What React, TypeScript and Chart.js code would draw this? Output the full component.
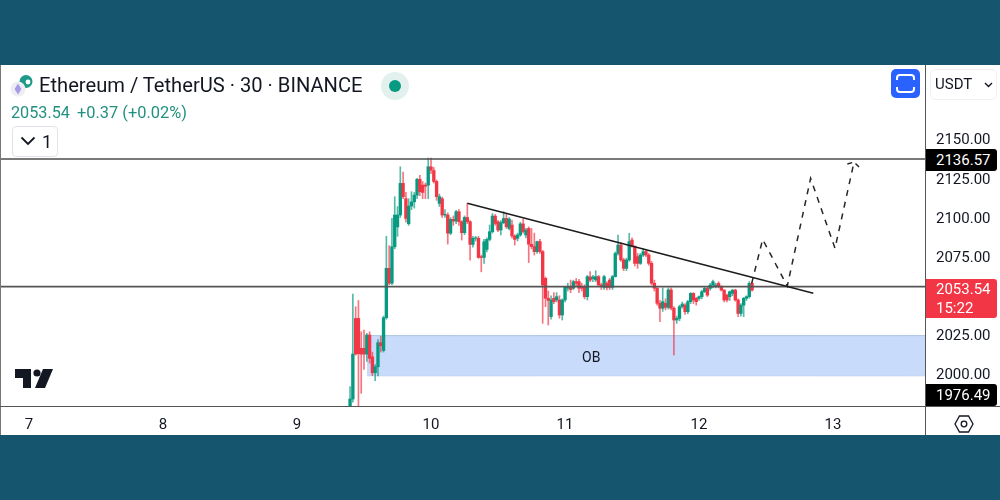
import { useEffect, useRef } from "react";
import Chart from "chart.js/auto";

// values
const firstCandleDay = 9.396;
const candleStep = 1 / 48; // 30 min candles, axis is in days

const opens = [
  1979, 1984, 2035.5, 2035.5, 2016.4, 2016.4, 2012.7, 2024.9, 2011, 2000.8,
  2004.6, 2020, 2015, 2036, 2067.5, 2058, 2081.3, 2094, 2101.6, 2121.8,
  2112, 2096, 2107.3, 2110, 2114.3, 2124.4, 2120.7, 2120.7, 2120.7, 2132.4,
  2130, 2123, 2109, 2112, 2101.6, 2101.6, 2090, 2098.8, 2097.7, 2103.7,
  2097.3, 2090.3, 2100, 2097.3, 2082.8, 2086.7, 2086.7, 2075, 2074.5, 2079.6,
  2086, 2090.9, 2100.9, 2097.3, 2092, 2096.7, 2099.4, 2093, 2095.2, 2088.2,
  2086.7, 2088.8, 2095.9, 2088.8, 2093, 2082.9, 2081.4, 2078.2, 2084.6, 2078.2,
  2061.1, 2048.4, 2036.7, 2048.4, 2047.3, 2047.3, 2037.7, 2047.3, 2054.8, 2055.8,
  2054.8, 2059, 2059, 2055.8, 2055.8, 2049.4, 2062, 2061, 2060.1, 2062.2,
  2056.9, 2055.4, 2058, 2060, 2055.4, 2062.2, 2077, 2082.4, 2072.9, 2067.5,
  2072.9, 2085.6, 2081.4, 2075, 2070.7, 2076, 2078.2, 2076, 2070.7, 2058,
  2054.8, 2045.2, 2042, 2045.2, 2042.6, 2053.7, 2042, 2034.5, 2035.5, 2043,
  2044, 2039.8, 2046.2, 2051.5, 2048.3, 2048.3, 2049.4, 2052.6, 2054.7, 2054.7,
  2056.8, 2056.2, 2057.9, 2055.8, 2053.6, 2050.4, 2049.4, 2051.5, 2053.6, 2047.3,
  2038.7, 2044, 2048.3, 2049.4, 2057.9,
];
const closes = [
  1984, 2012.7, 2012.7, 2013, 2012.7, 2012.7, 2024.9, 2010, 2000.8, 2004.6,
  2020, 2018, 2036, 2067.5, 2058, 2081.3, 2101.6, 2101.6, 2121.8, 2113.3,
  2099.4, 2107.3, 2110, 2114.3, 2124.4, 2116.5, 2116, 2120, 2132.4, 2130.3,
  2123, 2113.3, 2113.3, 2101.6, 2102, 2090, 2098.8, 2097.7, 2103.7, 2097.3,
  2090.3, 2100, 2097.3, 2082.8, 2086.7, 2087, 2074.5, 2074.5, 2084.5, 2086,
  2090.9, 2100.9, 2096.2, 2092, 2096.7, 2099.4, 2094.1, 2099, 2088.2, 2086,
  2088.8, 2095.9, 2091, 2092, 2082.9, 2081.4, 2078.2, 2084.6, 2078.2, 2056.9,
  2048.4, 2047, 2047.3, 2046.2, 2049.4, 2037.7, 2047.3, 2055.4, 2055.8, 2054,
  2059, 2058, 2054.8, 2054.8, 2049.4, 2062.2, 2060, 2062, 2062.2, 2056.9,
  2056, 2062.2, 2055.4, 2055.4, 2062.2, 2077, 2082.4, 2072.9, 2067.5, 2072.9,
  2084.6, 2081.8, 2070.7, 2070.7, 2076, 2078.2, 2076, 2070.7, 2058, 2054.8,
  2045.2, 2042, 2046.2, 2042.6, 2053.7, 2042, 2034.5, 2035.5, 2043, 2044.7,
  2039.8, 2046.2, 2051.5, 2047.3, 2046.2, 2049.4, 2052.6, 2054.7, 2050.4, 2056.8,
  2059, 2056.8, 2055.8, 2053.6, 2047.3, 2047.3, 2052.6, 2053.6, 2047.3, 2038.7,
  2044, 2048.3, 2049.4, 2057.9, 2053.6,
];
const highs = [
  1992, 2051, 2043, 2047, 2027, 2028, 2026, 2027, 2014, 2006,
  2022, 2024, 2037, 2088, 2082, 2099.4, 2113.3, 2107, 2132.4, 2129,
  2116, 2112, 2116.5, 2116, 2125, 2127, 2123, 2122, 2138, 2138,
  2132, 2124, 2115, 2113, 2105, 2103, 2100, 2101, 2104.5, 2105,
  2098, 2101, 2109, 2098, 2088, 2088, 2088, 2076, 2086, 2087,
  2095.2, 2102.6, 2102, 2098, 2098, 2103.7, 2102.6, 2100, 2098.4, 2089,
  2090, 2097, 2099, 2093, 2094, 2093, 2090, 2085, 2086, 2079,
  2062, 2053, 2050, 2052, 2052, 2050, 2048, 2056, 2058, 2060,
  2060, 2061, 2060.5, 2058, 2057, 2063, 2065.4, 2063, 2066, 2063,
  2058, 2063, 2059, 2061, 2063, 2078, 2088.8, 2084, 2074, 2074,
  2089.9, 2087, 2082, 2077, 2077, 2080, 2079.5, 2077, 2072, 2060,
  2056, 2047, 2055, 2048, 2055, 2055, 2043, 2037, 2044, 2046,
  2045, 2047, 2052, 2052, 2049, 2050, 2053.5, 2056, 2055.5, 2058,
  2060, 2058, 2059, 2056.5, 2054, 2051, 2053, 2054, 2054.2, 2048,
  2045, 2049, 2050, 2059, 2058.5,
];
const lows = [
  1975, 1982, 2012, 1977, 1987.6, 2003, 2008, 2007, 1999, 1995.7,
  1998.7, 2014, 2014, 2035, 2057, 2057, 2080, 2088, 2100, 2112,
  2097, 2095, 2105, 2106, 2112, 2114, 2112, 2112, 2112, 2128,
  2122, 2111, 2107, 2100, 2100, 2083, 2089, 2095, 2096, 2095,
  2085.6, 2089, 2096, 2072.8, 2081, 2085, 2073.9, 2065.3, 2070.7, 2078,
  2085, 2090, 2095, 2091, 2088.8, 2096, 2093, 2092, 2087, 2082.4,
  2085, 2088, 2090, 2087, 2071.2, 2080, 2076, 2077, 2077, 2032.4,
  2043, 2031.3, 2035, 2045, 2046, 2035.6, 2034.5, 2046, 2053, 2052,
  2054, 2056, 2052, 2053, 2048, 2047.3, 2059, 2059, 2059, 2056,
  2054, 2054, 2053.7, 2054, 2054, 2062, 2076, 2072, 2066, 2066,
  2072, 2081, 2069, 2067.5, 2070, 2075, 2075, 2069.5, 2056.9, 2053,
  2044, 2033.4, 2040, 2041, 2041.5, 2041, 2012.2, 2032.3, 2034, 2042,
  2038, 2038.5, 2045, 2045, 2044, 2047, 2048, 2052, 2049.5, 2053.5,
  2055, 2055, 2055, 2053, 2046, 2046, 2047, 2050, 2046.5, 2036.6,
  2037, 2036.6, 2047, 2048.5, 2053,
];

const dayTicks = [7, 8, 9, 10, 11, 12, 13];
const priceTicks = [2150, 2125, 2100, 2075, 2025, 2000];

const xMin = 6.7836;
const xMax = 13.6866;
const yMin = 1979.55;
const yMax = 2197.44;

const resistance = 2137.4;
const support = 2055.8;
const obTop = 2024.5;
const obBottom = 1998.9;
const obStartDay = 9.522;

const trendLine = [
  { x: 10.271, y: 2109.1 },
  { x: 12.853, y: 2051.6 },
];
const projection = [
  { x: 12.393, y: 2057.9 },
  { x: 12.475, y: 2086 },
  { x: 12.659, y: 2056.2 },
  { x: 12.833, y: 2125 },
  { x: 13.015, y: 2080.3 },
  { x: 13.157, y: 2135.4 },
];
const arrowHead = [
  { x: 13.107, y: 2134.2 },
  { x: 13.157, y: 2135.4 },
  { x: 13.197, y: 2132 },
];

const UP = "#089981";
const DOWN = "#f23645";
const TEXT = "#131722";
const FONT = "Roboto, sans-serif";

const lineBase = { type: "line" as const, pointRadius: 0, fill: false, tension: 0 };

function box(left: number, top: number, width: number, height: number) {
  return { position: "absolute" as const, left, top, width, height };
}

function CandleChart() {
  const canvasRef = useRef<HTMLCanvasElement>(null);

  useEffect(() => {
    if (!canvasRef.current) return;
    const days = opens.map((_, i) => firstCandleDay + i * candleStep);
    const colors = opens.map((o, i) => (closes[i] >= o ? UP : DOWN));

    const chart = new Chart(canvasRef.current, {
      type: "bar",
      data: {
        datasets: [
          {
            ...lineBase,
            data: [
              { x: xMin, y: resistance },
              { x: xMax, y: resistance },
            ],
            borderColor: "#4d4d4d",
            borderWidth: 1.4,
            order: 1,
          },
          {
            ...lineBase,
            data: [
              { x: xMin, y: support },
              { x: xMax, y: support },
            ],
            borderColor: "#555555",
            borderWidth: 1.6,
            order: 1,
          },
          { ...lineBase, data: trendLine, borderColor: "#1c1c1c", borderWidth: 1.5, order: 0 },
          { ...lineBase, data: projection, borderColor: "#262626", borderWidth: 1.5, borderDash: [6, 6], order: 0 },
          { ...lineBase, data: arrowHead, borderColor: "#262626", borderWidth: 1.5, borderDash: [5, 4], order: 0 },
          {
            type: "bar",
            data: days.map((x, i) => ({ x, y: [opens[i], closes[i]] })),
            backgroundColor: colors,
            barThickness: 2.7,
            grouped: false,
            order: 2,
          },
          {
            type: "bar",
            data: days.map((x, i) => ({ x, y: [lows[i], highs[i]] })),
            backgroundColor: colors.map((c) => c + "b0"),
            barThickness: 1,
            grouped: false,
            order: 3,
          },
          {
            ...lineBase,
            data: [
              { x: obStartDay, y: obTop },
              { x: xMax, y: obTop },
            ],
            borderColor: "#a9c3e3",
            borderWidth: 1,
            fill: "+1",
            backgroundColor: "#c9dbfb",
            order: 4,
          },
          {
            ...lineBase,
            data: [
              { x: obStartDay, y: obBottom },
              { x: xMax, y: obBottom },
            ],
            borderColor: "#a9c3e3",
            borderWidth: 1,
            order: 4,
          },
        ] as any,
      },
      options: {
        animation: false,
        responsive: false,
        layout: { padding: { top: 65, bottom: 65, left: 0, right: 0 } },
        plugins: { legend: { display: false }, tooltip: { enabled: false } },
        scales: {
          x: {
            type: "linear",
            min: xMin,
            max: xMax,
            offset: false,
            grid: { display: false, drawTicks: false },
            border: { display: false },
            afterFit: (axis: any) => {
              axis.height = 29;
            },
            afterBuildTicks: (axis: any) => {
              axis.ticks = dayTicks.map((value) => ({ value }));
            },
            ticks: {
              autoSkip: false,
              maxRotation: 0,
              padding: 10,
              color: TEXT,
              font: { family: FONT, size: 15 },
              callback: (v: any) => String(v),
            },
          },
          y: {
            type: "linear",
            position: "right",
            min: yMin,
            max: yMax,
            grid: { display: false, drawTicks: false },
            border: { display: false },
            afterFit: (axis: any) => {
              axis.width = 75;
            },
            afterBuildTicks: (axis: any) => {
              axis.ticks = priceTicks.map((value) => ({ value }));
            },
            ticks: {
              autoSkip: false,
              padding: 11,
              labelOffset: 1.5,
              color: TEXT,
              font: { family: FONT, size: 15 },
              callback: (v: any) => Number(v).toFixed(2),
            },
          },
        },
      },
    });
    return () => chart.destroy();
  }, []);

  return (
    <canvas
      ref={canvasRef}
      width={1000}
      height={500}
      style={{ position: "absolute", left: 0, top: 0, width: 1000, height: 500 }}
    />
  );
}

function PriceTag({ top, height, bg, lines }: { top: number; height: number; bg: string; lines: string[] }) {
  return (
    <div
      style={{
        ...box(926, top, 71, height),
        background: bg,
        borderRadius: "0 3px 3px 0",
        color: "#fff",
        fontSize: 15,
        lineHeight: "19px",
        paddingLeft: 10,
        boxSizing: "border-box",
        display: "flex",
        flexDirection: "column",
        justifyContent: "center",
      }}
    >
      {lines.map((line) => (
        <div key={line}>{line}</div>
      ))}
    </div>
  );
}

export default function App() {
  return (
    <div style={{ position: "relative", width: 1000, height: 500, background: "#15556e", fontFamily: FONT, overflow: "hidden", color: TEXT }}>
      <style>{`body{margin:0}`}</style>
      <div style={{ ...box(0, 65, 1000, 370), background: "#fff" }} />
      <CandleChart />

      {/* frame lines */}
      <div style={{ ...box(0, 65, 1, 370), background: "#777" }} />
      <div style={{ ...box(925, 65, 1, 370), background: "#555" }} />
      <div style={{ ...box(0, 406, 1000, 1), background: "#555" }} />

      {/* header */}
      <svg style={box(8, 72, 30, 28)} viewBox="0 0 30 28">
        <circle cx="18" cy="9.5" r="6.5" fill="#1e9a8a" />
        <circle cx="20" cy="10" r="2.4" fill="#fff" />
        <circle cx="10" cy="17" r="7.5" fill="#eceef2" />
        <path d="M10 11.5 L13.4 17 L10 22.5 L6.6 17 Z" fill="#a79be8" />
      </svg>
      <div style={{ position: "absolute", left: 39, top: 73, fontSize: 20.15, lineHeight: "24px", whiteSpace: "nowrap" }}>
        Ethereum / TetherUS · 30 · BINANCE
      </div>
      <div style={{ ...box(381, 72, 28, 28), borderRadius: "50%", background: "#e2f1ee" }} />
      <div style={{ ...box(389, 80, 12, 12), borderRadius: "50%", background: UP }} />
      <div style={{ position: "absolute", left: 11, top: 103, fontSize: 16.2, lineHeight: "19px", color: "#22917f", whiteSpace: "nowrap" }}>
        2053.54
      </div>
      <div style={{ position: "absolute", left: 77, top: 103, fontSize: 16.4, lineHeight: "19px", color: "#22917f", whiteSpace: "nowrap" }}>
        +0.37 (+0.02%)
      </div>
      <div style={{ ...box(12, 126, 46, 31), border: "1px solid #e0e3eb", borderRadius: 4, boxSizing: "border-box", background: "#fff" }} />
      <svg style={box(20, 136, 16, 10)} viewBox="0 0 16 10">
        <path d="M1.5 1.5 L8 8 L14.5 1.5" fill="none" stroke={TEXT} strokeWidth="1.8" />
      </svg>
      <div style={{ position: "absolute", left: 42, top: 130, fontSize: 18, lineHeight: "23px" }}>1</div>

      {/* top right controls */}
      <div style={{ ...box(891, 69, 29, 29), background: "#2962ff", borderRadius: 5 }} />
      <svg style={box(891, 69, 29, 29)} viewBox="0 0 29 29">
        <path
          d="M6 11 V9 Q6 6 9 6 H20 Q23 6 23 9 V11 M6 18 V20 Q6 23 9 23 H20 Q23 23 23 20 V18"
          fill="none"
          stroke="#fff"
          strokeWidth="2"
        />
      </svg>
      <div style={{ ...box(930, 69, 67, 31), border: "1px solid #eef0f3", borderRadius: 5, boxSizing: "border-box" }} />
      <div style={{ position: "absolute", left: 935, top: 75, fontSize: 15, lineHeight: "19px" }}>USDT</div>
      <svg style={box(984, 82, 9, 6)} viewBox="0 0 9 6">
        <path d="M1 1 L4.5 4.5 L8 1" fill="none" stroke={TEXT} strokeWidth="1.4" />
      </svg>

      {/* price tags */}
      <PriceTag top={149} height={22} bg="#000" lines={["2136.57"]} />
      <PriceTag top={279} height={39} bg={DOWN} lines={["2053.54", "15:22"]} />
      <PriceTag top={384} height={22} bg="#000" lines={["1976.49"]} />

      {/* zone label */}
      <div style={{ position: "absolute", left: 582, top: 349, fontSize: 14, lineHeight: "16px" }}>OB</div>

      {/* watermark logo */}
      <svg style={box(15, 369, 38, 19)} viewBox="0 0 38 19">
        <path d="M0 0 H16 V19 H8 V9 H0 Z" fill="#131722" />
        <circle cx="22" cy="4" r="3.6" fill="#131722" />
        <path d="M28 0 H38 L30 19 H20 Z" fill="#131722" />
      </svg>

      {/* settings icon */}
      <svg style={box(954, 415, 20, 18)} viewBox="0 0 20 18">
        <path d="M5.5 1 H14.5 L19 9 L14.5 17 H5.5 L1 9 Z" fill="none" stroke={TEXT} strokeWidth="1.3" />
        <circle cx="10" cy="9" r="2.8" fill="none" stroke={TEXT} strokeWidth="1.3" />
      </svg>
    </div>
  );
}
